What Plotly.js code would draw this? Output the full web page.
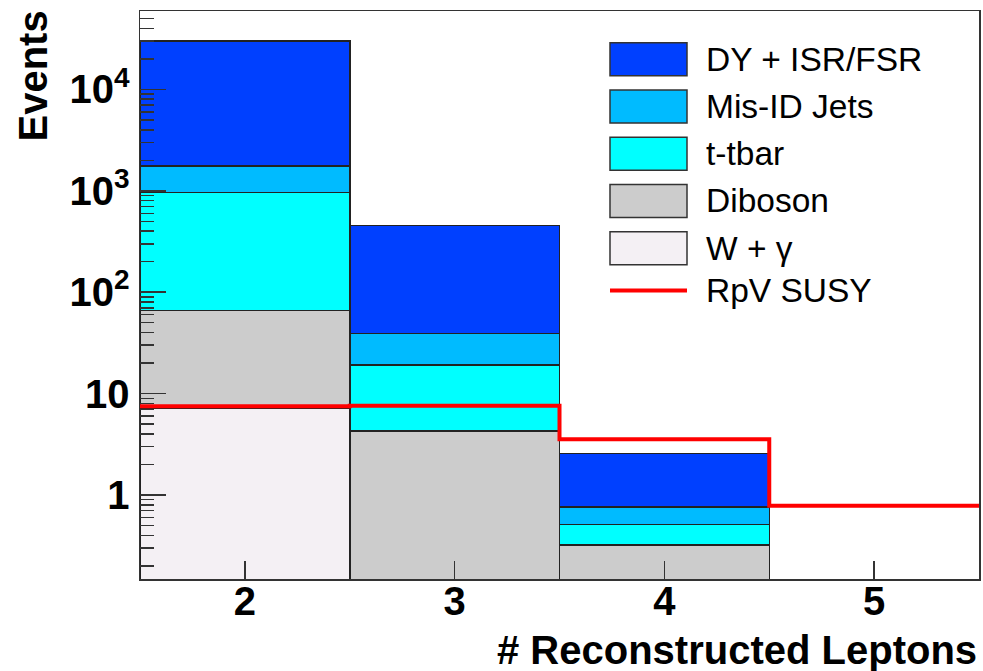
<!DOCTYPE html>
<html>
<head>
<meta charset="utf-8">
<script src="https://cdn.plot.ly/plotly-3.0.1.min.js"></script>
<style>html,body{margin:0;padding:0;background:#fff;}#plot{width:983px;height:671px;}</style>
</head>
<body>
<div id="plot"></div>
<script>
// ---- data ----
const bins = [2, 3, 4, 5];
const wgamma  = [7.2, null, null, null];
const diboson = [59, 4.3, 0.32, null];
const ttbar   = [892, 14.8, 0.195, null];
const misid   = [799, 19.9, 0.243, null];
const dyisr   = [28240, 414, 1.82, null];
const susy    = [7.5, 7.6, 3.54, 0.785];

const seriesNames = ['DY + ISR/FSR', 'Mis-ID Jets', 't-tbar', 'Diboson', 'W + γ', 'RpV SUSY'];
const yTickVals = [1, 10, 100, 1000, 10000];
const yTickText = ['1', '10', '10<sup>2</sup>', '10<sup>3</sup>', '10<sup>4</sup>'];
const xTickVals = [2, 3, 4, 5];

// ---- styling ----
const colors = {dy: '#0040ff', misid: '#00bbff', ttbar: '#00ffff', diboson: '#cccccc', wgamma: '#f4f0f4', susy: '#ff0000'};
const edge = '#222222';
const FONT = 'Liberation Sans, Arial, Helvetica, sans-serif';

function barTrace(y, name, color) {
  return {type: 'bar', x: bins, y: y, name: name, width: 1, showlegend: false,
          marker: {color: color, line: {color: edge, width: 1.5}}, hoverinfo: 'skip'};
}

// step line from bin centres
const stepX = bins.map(b => b - 0.5).concat([bins[bins.length - 1] + 0.5]);
const stepY = susy.concat([susy[susy.length - 1]]);

const traces = [
  barTrace(wgamma, seriesNames[4], colors.wgamma),
  barTrace(diboson, seriesNames[3], colors.diboson),
  barTrace(ttbar, seriesNames[2], colors.ttbar),
  barTrace(misid, seriesNames[1], colors.misid),
  barTrace(dyisr, seriesNames[0], colors.dy),
  {type: 'scatter', mode: 'lines', x: stepX, y: stepY, name: seriesNames[5], showlegend: false,
   line: {shape: 'hv', color: colors.susy, width: 4}, hoverinfo: 'skip'}
];

// minor log ticks
const minorVals = [];
for (let d = -1; d <= 4; d++) for (let m = 2; m <= 9; m++) minorVals.push(m * Math.pow(10, d));

// pixel -> paper helpers for decorations
const L = 140, T = 11, W = 839, H = 568;
const px = p => (p - L) / W;
const py = p => (T + H - p) / H;

// custom legend (ROOT style)
const legendColors = [colors.dy, colors.misid, colors.ttbar, colors.diboson, colors.wgamma];
const shapes = [];
const annotations = [];
const rowTop = 42.7, pitch = 47.25, boxH = 33;
for (let i = 0; i < 5; i++) {
  const top = rowTop + i * pitch;
  shapes.push({type: 'rect', xref: 'paper', yref: 'paper', x0: px(610), x1: px(687), y0: py(top + boxH), y1: py(top),
               fillcolor: legendColors[i], line: {color: '#333333', width: 1.5}});
  annotations.push({xref: 'paper', yref: 'paper', x: px(704), y: py(top + boxH / 2), xanchor: 'left', yanchor: 'middle',
                    text: seriesNames[i], showarrow: false, font: {family: FONT, size: 33.5, color: '#000'}});
}
const lineY = rowTop + 5 * pitch + boxH / 2 - 5;
shapes.push({type: 'line', xref: 'paper', yref: 'paper', x0: px(610), x1: px(687), y0: py(lineY), y1: py(lineY),
             line: {color: colors.susy, width: 4}});
annotations.push({xref: 'paper', yref: 'paper', x: px(704), y: py(lineY), xanchor: 'left', yanchor: 'middle',
                  text: seriesNames[5], showarrow: false, font: {family: FONT, size: 33.5, color: '#000'}});

// axis titles (ROOT places them at the axis ends)
annotations.push({xref: 'paper', yref: 'paper', x: px(979), y: py(650), xanchor: 'right', yanchor: 'middle',
                  text: '# Reconstructed Leptons', showarrow: false, font: {family: FONT, size: 40, weight: 'bold', color: '#000'}});
annotations.push({xref: 'paper', yref: 'paper', x: px(32), y: py(8), xanchor: 'center', yanchor: 'top', textangle: -90,
                  text: 'Events', showarrow: false, font: {family: FONT, size: 40, weight: 'bold', color: '#000'}});

const layout = {
  width: 983, height: 671,
  margin: {l: L, r: 983 - L - W, t: T, b: 671 - T - H, pad: 0},
  paper_bgcolor: '#ffffff', plot_bgcolor: '#ffffff',
  barmode: 'stack', bargap: 0, showlegend: false,
  font: {family: FONT, color: '#000'},
  xaxis: {range: [1.5, 5.5], tickmode: 'array', tickvals: xTickVals, ticktext: xTickVals.map(String),
          ticks: 'inside', ticklen: 18, tickwidth: 1.5, tickcolor: '#333',
          showline: true, mirror: true, linecolor: '#333', linewidth: 1.5, showgrid: false, zeroline: false,
          tickfont: {family: FONT, size: 40, weight: 'bold', color: '#000'}, ticklabelstandoff: -14},
  yaxis: {type: 'log', range: [-0.828, 4.773], tickmode: 'array', tickvals: yTickVals, ticktext: yTickText,
          ticks: 'inside', ticklen: 26, tickwidth: 1.5, tickcolor: '#333',
          minor: {tickmode: 'array', tickvals: minorVals, ticks: 'inside', ticklen: 14, tickwidth: 1.5, tickcolor: '#333', showgrid: false},
          showline: true, mirror: true, linecolor: '#333', linewidth: 1.5, showgrid: false, zeroline: false,
          tickfont: {family: FONT, size: 40, weight: 'bold', color: '#000'}, ticklabelstandoff: 1},
  shapes: shapes,
  annotations: annotations
};

Plotly.newPlot('plot', traces, layout, {staticPlot: true, displayModeBar: false});
</script>
</body>
</html>
